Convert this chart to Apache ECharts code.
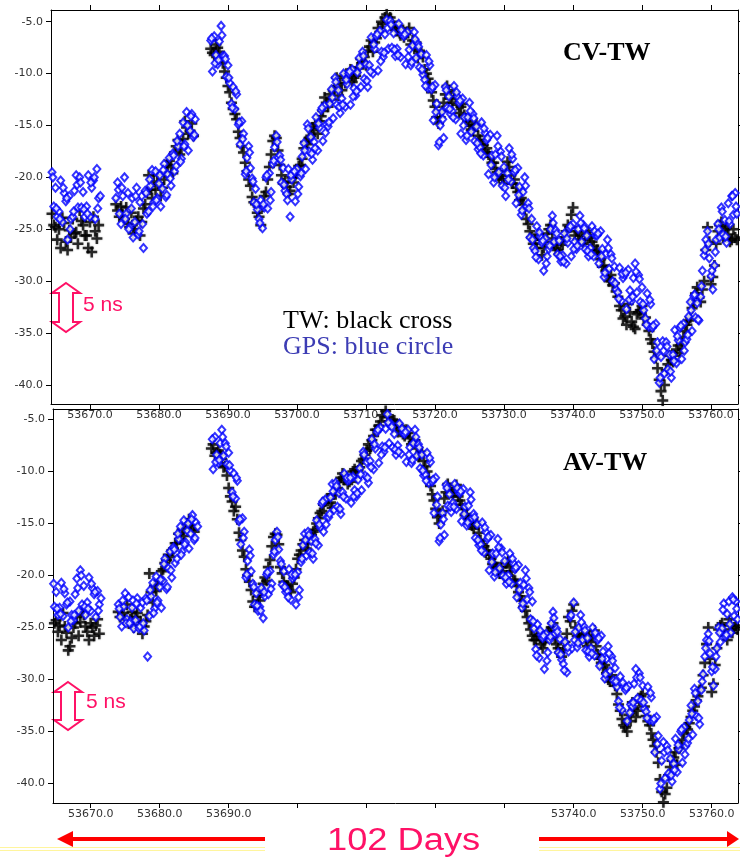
<!DOCTYPE html>
<html>
<head>
<meta charset="utf-8">
<script src="https://cdn.jsdelivr.net/npm/echarts@6/dist/echarts.min.js"></script>
<style>
  html, body { margin: 0; padding: 0; background: #fff; }
  #chart { width: 740px; height: 860px; }
</style>
</head>
<body>
<div id="chart"></div>
<script>
// MJD of the first sample; GPS read every 0.25 day (plus a second pass every 0.5 day),
// TW read every 0.5 day in two passes (values in ns)
const startDay = 53664.5;
const startDayB = 53664.625;
const startDayTwB = 53664.75;
const gpsStep = 0.25;
const halfDay = 0.5;

const dayTicks = [53670, 53680, 53690, 53700, 53710, 53720, 53730, 53740, 53750, 53760];
const nsTicks = [-5, -10, -15, -20, -25, -30, -35, -40];

// CV-TW, GPS (blue)
const cvGps = [
  -19.5,-22.8,-21.0,-23.8, -23.3,-20.3,-24.3,-21.5, -22.3,-26.0,-21.8,-24.0, -23.8,-21.3,-19.8,-22.9,
  -20.0,-22.9,-21.4,-23.8, -22.8,-19.8,-23.8,-21.0, -20.3,-24.0,-19.2,-22.0, -21.8,null,null,null,
  null,null,null,null, null,-22.0,-20.5,-23.5, -24.5,-21.8,-20.0,-23.5, -21.5,-24.8,-23.0,-25.8,
  -24.3,-21.0,-25.5,-22.4, -21.8,-26.8,-21.3,-23.5, -23.3,-20.8,-19.3,-22.4, -19.4,-22.0,-20.6,-22.8,
  -21.1,-18.7,-21.9,-19.7, -18.1,-20.8,-17.7,-19.4, -18.9,-17.0,-15.8,-18.2, -14.7,-16.8,-13.7,-17.4,
  -15.5,-13.9,-16.1,-14.4, null,null,null,null, null,null,null,null, -6.8,-9.8,-6.4,-8.2,
  -9.1,-6.9,-5.4,-8.3, -8.3,-10.3,-9.2,-10.9, -12.9,-11.3,-13.4,-12.0, -14.9,-16.8,-14.6,-15.8,
  -19.7,-18.1,-17.0,-19.1, -20.1,-22.4,-21.1,-23.1, -24.0,-22.2,-24.9,-22.9, -20.0,-23.0,-19.6,-21.4,
  -18.7,-17.1,-16.0,-18.1, -17.9,-20.5,-19.1,-21.3, -21.6,-19.2,-23.8,-20.2, -19.6,-22.3,-19.2,-20.9,
  -19.9,-18.0,-16.7,-19.2, -14.9,-17.5,-16.1,-18.3, -16.6,-14.2,-17.4,-15.2, -13.5,-16.5,-13.1,-14.9,
  -15.1,-12.9,-11.5,-14.3, -10.4,-13.0,-11.6,-13.8, -12.4,-10.0,-13.2,-11.0, -10.0,-13.0,-9.6,-11.4,
  -12.1,-9.9,-8.5,-11.3, -7.9,-10.5,-9.1,-11.3, -9.2,-6.5,-10.0,-7.6, -6.4,-9.7,-5.9,-7.9,
  -8.4,-6.2,-4.8,-7.6, -4.9,-7.5,-6.1,-8.3, -7.6,-5.2,-8.4,-6.2, -6.4,-9.1,-6.0,-7.7,
  -9.2,-7.3,-6.0,-8.5, -7.1,-9.4,-8.1,-10.1, -10.6,-8.2,-11.4,-9.2, -11.5,-14.5,-11.1,-12.9,
  -16.9,-15.0,-13.7,-16.2, -11.3,-13.3,-12.2,-13.9, -13.6,-11.2,-14.4,-12.2, -12.8,-15.8,-12.4,-14.2,
  -16.4,-14.2,-12.8,-15.6, -13.9,-16.5,-15.1,-17.3, -17.1,-14.7,-17.9,-15.7, -16.4,-19.7,-15.9,-17.9,
  -20.5,-17.8,-16.0,-19.5, -17.5,-20.8,-19.0,-21.8, -19.6,-17.2,-20.4,-18.2, -19.5,-22.5,-19.1,-20.9,
  -23.6,-21.4,-20.0,-22.8, -22.5,-25.8,-24.0,-26.8, -27.1,-24.7,-27.9,-25.7, -26.3,-29.0,-25.9,-27.6,
  -26.9,-25.0,-23.7,-26.2, -25.1,-27.4,-26.1,-28.1, -27.5,-25.4,-28.3,-26.3, -24.9,-27.6,-24.5,-26.2,
  -26.9,-25.0,-23.7,-26.2, -24.6,-26.9,-25.6,-27.6, -26.8,-24.7,-27.6,-25.6, -25.6,-28.3,-25.2,-26.9,
  -29.6,-27.4,-26.0,-28.8, -27.4,-30.0,-28.6,-30.8, -31.1,-28.7,-31.9,-29.7, -29.4,-32.7,-28.9,-30.9,
  -31.9,-29.7,-28.3,-31.1, -29.4,-32.0,-30.6,-32.8, -33.6,-31.2,-34.4,-32.2, -34.5,-37.5,-34.1,-35.9,
  -39.8,-37.3,-35.8,-38.9, -35.9,-38.5,-37.1,-39.3, -37.1,-34.7,-37.9,-35.7, -34.5,-37.5,-34.1,-35.9,
  -35.6,-33.4,-32.0,-34.8, -31.4,-33.5,-32.1,-33.8, -31.5,-29.0,-27.5,-26.0, -25.2,-27.8,-29.5,-30.8,
  -28.5,-26.0,-24.5,-25.8, -22.9,-25.5,-24.1,-26.3, -22.5,-24.5,-21.8,-23.6, -21.5,-23.5,null,null
];

// CV-TW, GPS (blue), second pass
const cvGpsB = [
  -20.0,-23.0, -24.0,-21.0, -22.0,-25.0, -23.3,-20.7, -20.5,-23.1, -23.5,-20.5, -20.0,-23.0, null,null,
  null,null, null,-21.2, -21.0,-24.0, -25.0,-22.0, -21.8,-25.2, -24.5,-21.5, -20.2,-22.8, -22.2,-19.8,
  -19.3,-21.7, -20.1,-17.9, -16.5,-18.5, -17.0,-15.0, -14.1,-15.9, null,null, null,null, -6.6,-9.0,
  -8.7,-6.3, -8.6,-10.4, -13.3,-11.7, -14.7,-16.3, -19.4,-17.6, -20.4,-22.6, -24.4,-22.6, -19.8,-22.2,
  -18.4,-16.6, -18.3,-20.7, -22.2,-19.8, -19.4,-21.6, -19.6,-17.4, -15.3,-17.7, -17.2,-14.8, -13.3,-15.7,
  -14.7,-12.3, -10.8,-13.2, -13.0,-10.6, -9.8,-12.2, -11.7,-9.3, -8.3,-10.7, -9.8,-7.2, -6.2,-8.8,
  -8.0,-5.6, -5.3,-7.7, -8.2,-5.8, -6.2,-8.4, -8.9,-6.7, -7.4,-9.6, -11.2,-8.8, -11.3,-13.7,
  -16.6,-14.4, -11.6,-13.4, -14.2,-11.8, -12.6,-15.0, -16.0,-13.6, -14.3,-16.7, -17.7,-15.3, -16.2,-18.8,
  -20.0,-17.0, -18.0,-21.0, -20.2,-17.8, -19.3,-21.7, -23.2,-20.8, -23.0,-26.0, -27.7,-25.3, -26.1,-28.3,
  -26.6,-24.4, -25.4,-27.6, -28.1,-25.9, -24.7,-26.9, -26.6,-24.4, -24.9,-27.1, -27.4,-25.2, -25.4,-27.6,
  -29.2,-26.8, -27.8,-30.2, -31.7,-29.3, -29.2,-31.8, -31.5,-29.1, -29.8,-32.2, -34.2,-31.8, -34.3,-36.7,
  -39.3,-36.7, -36.3,-38.7, -37.7,-35.3, -34.3,-36.7, -35.2,-32.8, -31.3,-33.7, -30.5,-27.0, -26.4,-29.0,
  -27.2,-25.0, -23.3,-25.7, -24.2,-21.8, -22.8,null
];

// CV-TW, TW (black)
const cvTw = [
  -23.5,-24.8, -25.0,-23.9, -26.2,-25.1, -24.0,-25.3, -23.2,-24.6, -25.6,-24.3, -23.8,-25.9, null,null,
  null,null, null,-23.2, -22.8,-24.0, -24.5,-23.4, -25.0,-23.8, -24.3,-22.6, -19.8,-22.0, -21.2,-20.6,
  -21.0,-19.5, -18.4,-19.6, -17.0,-17.8, -16.3,-15.2, -15.5,-16.0, null,null, null,null, -7.6,-8.2,
  -7.5,-8.6, -9.8,-11.2, -12.8,-13.9, -15.6,-17.0, -18.6,-20.2, -21.9,-22.6, -23.8,-22.8, -21.4,-19.0,
  -16.5,-16.2, -18.8,-20.6, -20.9,-21.3, -20.5,-19.6, -18.8,-17.2, -16.8,-16.0, -15.4,-15.8, -14.1,-12.3,
  -13.2,-12.5, -11.4,-12.1, -11.6,-10.9, -10.0,-10.8, -10.2,-9.5, -8.9,-9.2, -7.4,-7.9, -6.6,-6.0,
  -5.2,-4.3, -4.6,-5.5, -5.8,-6.3, -6.5,-6.0, -7.2,-7.6, -8.5,-8.0, -9.6,-10.5, -11.8,-13.2,
  -14.8,-13.6, -12.0,-11.6, -12.8,-12.2, -13.8,-12.9, -14.3,-15.0, -15.5,-14.8, -16.4,-16.9, -17.2,-18.0,
  -18.6,-19.5, -19.8,-20.6, -18.5,-19.8, -20.2,-21.4, -22.0,-23.1, -24.5,-25.8, -26.0,-25.5, -27.5,-26.2,
  -25.0,-25.9, -26.8,-27.4, -26.5,-25.2, -24.8,-22.9, -25.2,-26.1, -26.4,-25.6, -25.8,-26.6, -27.0,-27.9,
  -28.5,-29.6, -29.4,-30.2, -31.5,-32.8, -33.4,-32.2, -33.9,-34.6, -33.0,-32.4, -33.5,-34.8, -36.0,-37.4,
  -39.5,-41.5, -38.6,-37.2, -37.8,-36.6, -36.9,-35.4, -34.2,-33.5, -32.0,-30.6, -32.0,-30.0, -24.8,-30.3,
  -28.5,-25.2, -24.3,-25.0, -25.5,-26.0, -25.8,null
];

// CV-TW, TW (black), second pass
const cvTwB = [
  -24.6,-26.0, -26.8,-24.4, -27.0,-25.8, -25.4,-26.4, -24.2,-25.6, -26.8,-27.2, -25.2,-24.6, null,null,
  null,null, -22.6,-23.8, -23.6,-22.9, -24.8,-25.4, -24.2,-25.6, -23.0,-21.4, -21.2,-20.4, -19.8,-21.8,
  -20.2,-18.8, -19.0,-17.6, -16.4,-17.2, -14.6,-15.8, -14.8,null, null,null, null,null, -8.0,-7.2,
  -7.9,-9.0, -10.4,-11.8, -13.4,-14.4, -16.2,-17.6, -19.4,-20.8, -22.4,-23.4, -24.6,-21.8, -20.2,-17.8,
  -16.0,-17.4, -19.8,-20.4, -21.6,-20.0, -19.8,-18.9, -18.2,-16.6, -16.2,-15.2, -14.8,-14.6, -13.6,-12.8,
  -12.0,-11.6, -10.4,-11.0, -10.2,-10.6, -9.6,-10.4, -9.4,-8.6, -8.4,-7.8, -6.8,-7.0, -5.6,-5.0,
  -4.6,-4.9, -5.0,-5.8, -5.4,-6.0, -6.2,-5.6, -6.8,-7.0, -7.8,-8.4, -10.0,-11.0, -12.6,-14.2,
  -14.2,-12.8, -11.2,-12.4, -11.8,-13.0, -13.2,-14.0, -14.6,-15.4, -15.0,-16.0, -16.8,-17.6, -17.8,-18.6,
  -19.2,-20.0, -20.2,-19.4, -19.0,-20.6, -21.0,-22.2, -22.6,-24.0, -25.2,-26.4, -26.8,-26.0, -26.8,-25.4,
  -24.6,-26.4, -27.0,-26.2, -25.8,-24.6, -23.6,-25.6, -26.0,-25.4, -26.0,-25.2, -26.2,-27.2, -27.5,-28.6,
  -29.0,-30.0, -30.4,-31.0, -32.4,-33.6, -34.2,-33.0, -34.4,-33.2, -32.8,-33.6, -34.2,-35.6, -36.8,-38.4,
  -40.6,-40.0, -38.0,-37.6, -37.2,-36.2, -36.0,-34.8, -33.8,-32.6, -31.2,-31.6, -30.8,-27.0, -26.2,-29.6,
  -26.4,-24.6, -25.8,-24.8, -26.2,-25.0, -26.0,null
];

// AV-TW, GPS (blue)
const avGps = [
  -20.4,-23.0,-21.6,-23.8, -23.1,-20.7,-23.9,-21.7, -22.8,-25.0,-22.5,-23.8, -24.3,-21.8,-20.3,-23.4,
  -19.5,-22.8,-21.0,-23.8, -22.6,-20.2,-23.4,-21.2, -21.8,-24.0,-21.5,-22.8, -22.2,null,null,null,
  null,null,null,null, null,null,-22.8,-24.0, -24.9,-23.0,-21.7,-24.2, -22.1,-24.4,-23.1,-25.1,
  -24.3,-22.2,-25.1,-23.1, -22.6,-25.3,-22.2,-27.8, -23.9,-22.0,-20.7,-23.2, -20.1,-22.4,-21.1,-23.1,
  -20.5,-18.4,-21.3,-19.3, -17.7,-20.2,-17.3,-18.8, -18.4,-16.5,-15.3,-17.7, -14.7,-16.8,-15.7,-17.4,
  -16.0,-14.2,-16.6,-14.9, -15.3,null,null,null, null,null,null,null, null,-9.8,-6.7,-8.4,
  -9.2,-7.3,-6.0,-8.5, -7.3,-9.3,-8.2,-9.9, -12.0,-10.2,-12.6,-10.9, -14.8,-17.0,-14.5,-15.8,
  -20.2,-18.6,-17.5,-19.6, -20.8,-22.8,-21.7,-23.4, -23.0,-21.2,-24.1,-22.0, -19.9,-21.8,-19.6,-20.8,
  -18.0,-16.6,-15.8,-17.5, -18.6,-20.9,-19.6,-21.6, -21.5,-19.4,-22.3,-20.3, -20.1,-22.8,-19.7,-21.4,
  -18.7,-17.1,-16.0,-18.1, -15.8,-17.8,-16.7,-18.4, -16.5,-14.7,-17.1,-15.4, -13.1,-15.8,-12.7,-14.4,
  -14.4,-12.5,-11.2,-13.7, -11.1,-13.4,-12.1,-14.1, -12.0,-10.2,-12.6,-10.9, -10.8,-13.0,-10.5,-11.8,
  -12.4,-10.8,-9.7,-11.8, -8.1,-10.4,-9.1,-11.1, -9.0,-6.9,-9.8,-7.8, -6.2,-9.2,-5.8,-7.6,
  -8.1,-5.9,-4.5,-7.3, -5.4,-7.7,-6.4,-8.4, -7.5,-5.4,-8.3,-6.3, -6.4,-9.1,-6.0,-7.7,
  -9.2,-7.3,-6.0,-8.5, -7.4,-9.7,-8.4,-10.4, -10.3,-8.2,-11.1,-9.1, -11.0,-14.0,-10.6,-12.4,
  -16.7,-15.1,-14.0,-16.1, -11.3,-13.3,-12.2,-13.9, -13.0,-11.2,-13.6,-11.9, -12.1,-14.8,-11.7,-13.4,
  -15.2,-13.3,-12.0,-14.5, -14.1,-16.4,-15.1,-17.1, -17.0,-14.9,-17.8,-15.8, -16.5,-19.5,-16.1,-17.9,
  -20.1,-17.9,-16.5,-19.3, -17.4,-20.0,-18.6,-20.8, -20.0,-17.9,-20.8,-18.8, -19.4,-22.1,-19.0,-20.7,
  -23.1,-20.9,-19.5,-22.3, -21.2,-24.2,-22.5,-25.1, -27.1,-24.7,-27.9,-25.7, -26.0,-29.0,-25.6,-27.4,
  -26.2,-24.6,-23.5,-25.6, -25.1,-27.4,-26.1,-28.1, -28.5,-26.4,-29.3,-27.3, -24.0,-27.0,-22.6,-25.4,
  -26.9,-25.0,-23.8,-26.2, -24.9,-27.2,-26.0,-27.8, -27.0,-25.0,-27.7,-25.8, -26.2,-28.7,-25.8,-27.3,
  -29.9,-28.0,-26.8,-29.2, -27.8,-30.1,-28.9,-30.7, -32.1,-29.7,-32.9,-30.7, -31.0,-34.0,-30.6,-32.4,
  -32.6,-30.4,-29.0,-31.8, -29.4,-32.0,-30.6,-32.8, -33.1,-30.7,-33.9,-31.7, -34.0,-37.0,-33.6,-35.4,
  -40.5,-37.8,-36.0,-39.5, -36.4,-39.0,-37.6,-39.8, -38.1,-35.7,-38.9,-36.7, -35.0,-38.0,-34.6,-36.4,
  -36.1,-33.9,-32.5,-35.3, -30.9,-33.5,-32.1,-34.3, -31.0,-29.5,-27.8,-26.2, -25.6,-27.5,-29.2,-30.6,
  -29.0,-27.0,-25.0,-26.4, -25.1,-22.7,-25.9,-23.7, -22.5,-25.5,-22.1,-23.9, -22.5,-24.2,null,null
];

// AV-TW, GPS (blue), second pass
const avGpsB = [
  -20.8,-23.2, -23.7,-21.3, -22.6,-24.4, -23.8,-21.2, -20.0,-23.0, -23.2,-20.8, -21.6,-23.4, null,null,
  null,null, null,-23.2, -22.4,-24.6, -24.6,-22.4, -22.7,-24.9, -24.6,-22.4, -21.4,-23.6, -22.6,-20.4,
  -18.9,-21.1, -19.5,-17.5, -16.0,-18.0, -17.0,-15.0, -14.6,-16.4, null,null, null,null, -6.9,-9.1,
  -8.9,-6.7, -7.6,-9.4, -12.4,-10.6, -14.6,-16.4, -19.9,-18.1, -21.1,-22.9, -23.4,-21.6, -19.7,-21.3,
  -17.7,-16.3, -18.9,-21.1, -22.1,-19.9, -19.9,-22.1, -18.4,-16.6, -16.1,-17.9, -16.9,-15.1, -12.9,-15.1,
  -14.1,-11.9, -11.4,-13.6, -12.4,-10.6, -10.6,-12.4, -12.1,-10.3, -8.4,-10.6, -9.6,-7.4, -6.0,-8.4,
  -7.7,-5.3, -5.7,-7.9, -8.1,-5.9, -6.2,-8.4, -8.9,-6.7, -7.7,-9.9, -10.9,-8.7, -10.8,-13.2,
  -16.4,-14.6, -11.6,-13.4, -13.4,-11.6, -11.9,-14.1, -14.9,-12.7, -14.4,-16.6, -17.6,-15.4, -16.3,-18.7,
  -19.7,-17.3, -17.8,-20.2, -20.6,-18.4, -19.2,-21.4, -22.7,-20.3, -21.6,-24.4, -27.7,-25.3, -25.8,-28.2,
  -25.9,-24.1, -25.4,-27.6, -29.1,-26.9, -23.8,-26.2, -26.5,-24.5, -25.3,-27.3, -27.5,-25.5, -26.0,-28.0,
  -29.5,-27.5, -28.2,-30.2, -32.7,-30.3, -30.8,-33.2, -32.2,-29.8, -29.8,-32.2, -33.7,-31.3, -33.8,-36.2,
  -40.0,-37.0, -36.8,-39.2, -38.7,-36.3, -34.8,-37.2, -35.7,-33.3, -31.3,-33.7, -30.2,-27.0, -26.3,-28.8,
  -27.8,-25.5, -23.3,-25.7, -24.7,-22.3, -23.2,null
];

// AV-TW, TW (black)
const avTw = [
  -23.2,-24.3, -24.8,-23.6, -25.5,-26.8, -25.0,-24.0, -24.5,-23.8, -25.4,-24.6, -25.8,-24.2, null,null,
  null,null, null,-23.5, -23.0,-24.2, -24.6,-23.5, -24.0,-24.8, -25.6,-24.4, -19.8,-22.6, -21.5,-20.5,
  -19.4,-18.5, -18.2,-17.4, -16.9,-16.5, -16.2,-15.0, -15.2,-15.8, null,null, null,null, -7.8,-8.5,
  -8.0,-8.8, -9.5,-11.6, -12.9,-13.4, -15.9,-17.6, -19.4,-20.6, -22.5,-23.0, -22.4,-20.8, -20.5,-18.5,
  -16.3,-16.1, -19.2,-20.6, -21.0,-21.6, -20.2,-18.4, -17.6,-16.6, -16.9,-16.1, -15.6,-14.5, -13.8,-12.9,
  -12.6,-13.5, -12.2,-11.0, -10.2,-10.5, -11.0,-10.0, -10.6,-9.6, -8.8,-8.0, -7.8,-6.6, -6.0,-5.2,
  -3.9,-4.8, -5.5,-5.1, -6.2,-5.8, -6.6,-6.3, -7.4,-7.0, -8.6,-8.1, -9.5,-10.6, -12.2,-13.6,
  -15.0,-13.8, -12.0,-11.6, -12.4,-11.3, -12.8,-13.6, -14.1,-14.9, -15.5,-14.9, -16.6,-17.2, -17.6,-18.4,
  -18.8,-19.6, -19.2,-20.2, -18.6,-19.6, -20.5,-21.6, -22.4,-23.4, -24.6,-25.8, -26.2,-25.6, -27.0,-26.0,
  -25.4,-24.6, -26.6,-27.4, -27.2,-25.6, -24.4,-22.8, -25.8,-26.2, -25.6,-26.8, -26.4,-25.3, -27.6,-28.4,
  -28.6,-30.0, -29.6,-30.6, -32.4,-33.8, -34.6,-33.4, -32.2,-33.6, -32.0,-31.4, -33.5,-34.4, -35.8,-37.0,
  -39.6,-41.8, -40.4,-38.4, -37.5,-38.2, -36.4,-35.2, -34.8,-33.6, -32.6,-31.6, -30.8,-28.4, -25.0,-31.2,
  -28.6,-25.2, -24.6,-25.8, -24.2,-25.5, -24.8,null
];

// AV-TW, TW (black), second pass
const avTwB = [
  -24.6,-25.4, -26.2,-24.9, -27.2,-26.0, -24.6,-25.8, -23.4,-24.9, -26.2,-25.0, -24.8,-25.6, null,null,
  null,null, null,-24.0, -23.6,-22.8, -24.2,-25.0, -23.6,-24.4, -24.9,-23.8, -21.6,-21.0, -20.8,-19.6,
  -18.8,-18.0, -17.6,-16.9, -16.0,-15.6, -15.4,-14.6, -15.6,null, null,null, null,null, -7.4,-8.2,
  -8.4,-9.6, -10.4,-12.4, -13.8,-14.6, -16.6,-18.2, -20.0,-21.4, -23.0,-22.0, -21.6,-20.2, -19.2,-17.2,
  -16.0,-17.0, -19.8,-21.0, -21.4,-20.8, -19.4,-18.0, -17.0,-17.4, -16.4,-15.8, -15.0,-14.0, -13.2,-12.6,
  -13.0,-12.2, -11.6,-10.6, -10.8,-11.2, -10.4,-9.8, -9.9,-9.0, -8.4,-7.4, -7.0,-6.0, -5.6,-4.6,
  -4.2,-5.2, -5.0,-5.6, -5.6,-6.4, -6.0,-6.8, -7.2,-7.8, -8.4,-9.0, -10.0,-11.4, -12.8,-14.4,
  -14.2,-12.6, -11.2,-12.0, -11.8,-12.4, -13.2,-14.2, -14.6,-15.2, -15.0,-15.9, -17.0,-17.8, -18.0,-18.9,
  -19.2,-19.8, -19.6,-18.8, -19.2,-20.4, -21.0,-22.0, -23.0,-24.0, -25.2,-26.2, -25.8,-26.6, -26.4,-25.4,
  -25.0,-26.0, -27.0,-27.8, -26.4,-24.0, -23.4,-25.0, -26.0,-25.6, -26.2,-25.8, -25.8,-26.8, -28.0,-28.8,
  -29.4,-30.2, -30.2,-31.4, -33.0,-34.4, -35.0,-34.0, -32.8,-33.0, -31.6,-32.6, -34.0,-35.2, -36.4,-38.0,
  -40.8,-41.0, -39.2,-37.8, -37.0,-36.6, -35.8,-34.6, -34.2,-33.0, -32.0,-31.0, -29.6,-26.6, -28.0,-30.4,
  -27.0,-24.8, -25.2,-26.2, -24.8,-25.0, -25.2,null
];

function toPoints(values, start, step) {
  const pts = [];
  values.forEach((v, i) => {
    if (v !== null) pts.push([start + i * step, v]);
  });
  return pts;
}

const axisFont = { fontFamily: 'DejaVu Sans', fontSize: 11, color: '#333' };
const frame = { show: true, onZero: false, lineStyle: { color: '#000', width: 1 } };

function xAxes(gridIndex, min, max, hideDays) {
  return [
    {
      type: 'value', gridIndex: gridIndex, position: 'bottom', min: min, max: max,
      axisLine: frame,
      axisTick: { show: true, length: 5, customValues: dayTicks, lineStyle: { color: '#000' } },
      axisLabel: Object.assign({
        customValues: dayTicks, margin: 6,
        formatter: v => (hideDays.indexOf(v) >= 0 ? '' : v.toFixed(1))
      }, axisFont),
      splitLine: { show: false }
    },
    {
      type: 'value', gridIndex: gridIndex, position: 'top', min: min, max: max,
      axisLine: frame,
      axisTick: { show: true, length: 5, customValues: dayTicks, lineStyle: { color: '#000' } },
      axisLabel: { show: false },
      splitLine: { show: false }
    }
  ];
}

function yAxes(gridIndex, min, max) {
  return [
    {
      type: 'value', gridIndex: gridIndex, position: 'left', min: min, max: max,
      axisLine: frame,
      axisTick: { show: true, length: 5, customValues: nsTicks, lineStyle: { color: '#000' } },
      axisLabel: Object.assign({ customValues: nsTicks, margin: 8, formatter: v => v.toFixed(1) }, axisFont),
      splitLine: { show: false }
    },
    {
      type: 'value', gridIndex: gridIndex, position: 'right', min: min, max: max,
      axisLine: frame,
      axisTick: { show: true, length: 4, customValues: nsTicks, lineStyle: { color: '#000' } },
      axisLabel: { show: false },
      splitLine: { show: false }
    }
  ];
}

// plus sign with thick arms
const crossSymbol = 'path://M4,0h2.4v4h4v2.4h-4v4h-2.4v-4h-4v-2.4h4z';

function twSeries(points, axisIndex) {
  return {
    type: 'scatter', xAxisIndex: axisIndex, yAxisIndex: axisIndex,
    data: points,
    symbol: crossSymbol, symbolSize: 11,
    itemStyle: { color: '#000', shadowColor: 'rgba(0,0,0,0.35)', shadowBlur: 2 },
    silent: true
  };
}

function gpsSeries(points, axisIndex) {
  return {
    type: 'scatter', xAxisIndex: axisIndex, yAxisIndex: axisIndex,
    data: points,
    symbol: 'emptyDiamond', symbolSize: [7, 8],
    itemStyle: { color: '#0000ff', borderWidth: 2.8 },
    silent: true
  };
}

const pink = '#ff1166';

function nsArrow(x, top, bottom) {
  return {
    type: 'polygon',
    shape: { points: [
      [x, top], [x + 14, top + 10], [x + 7, top + 10], [x + 7, bottom - 10],
      [x + 14, bottom - 10], [x, bottom], [x - 14, bottom - 10], [x - 7, bottom - 10],
      [x - 7, top + 10], [x - 14, top + 10]
    ] },
    style: { fill: 'none', stroke: pink, lineWidth: 2 }
  };
}

const chart = echarts.init(document.getElementById('chart'));
chart.setOption({
  animation: false,
  backgroundColor: '#fff',
  grid: [
    { left: 51, top: 10, width: 687, height: 394, outerBoundsMode: 'none' },
    { left: 53, top: 409, width: 685, height: 394, outerBoundsMode: 'none' }
  ],
  xAxis: [].concat(
    xAxes(0, 53664.35, 53763.91, []),
    xAxes(1, 53664.54, 53763.81, [53700, 53710, 53720, 53730])
  ),
  yAxis: [].concat(
    yAxes(0, -41.84, -3.87),
    yAxes(1, -41.87, -4.0)
  ),
  series: [
    twSeries(toPoints(cvTw, startDay, halfDay).concat(toPoints(cvTwB, startDayTwB, halfDay)), 0),
    gpsSeries(toPoints(cvGps, startDay, gpsStep).concat(toPoints(cvGpsB, startDayB, halfDay)), 0),
    twSeries(toPoints(avTw, startDay, halfDay).concat(toPoints(avTwB, startDayTwB, halfDay)), 2),
    gpsSeries(toPoints(avGps, startDay, gpsStep).concat(toPoints(avGpsB, startDayB, halfDay)), 2)
  ],
  graphic: [
    { type: 'text', left: 563, top: 40, style: { text: 'CV-TW', font: 'bold 26px "Liberation Serif"', fill: '#000' } },
    { type: 'text', left: 563, top: 450, style: { text: 'AV-TW', font: 'bold 26px "Liberation Serif"', fill: '#000' } },
    { type: 'text', left: 283, top: 308, style: { text: 'TW: black cross', font: '26px "Liberation Serif"', fill: '#000' } },
    { type: 'text', left: 283, top: 334, style: { text: 'GPS: blue circle', font: '26px "Liberation Serif"', fill: '#3c3cb4' } },
    nsArrow(66, 283, 332),
    { type: 'text', left: 83, top: 295, style: { text: '5 ns', font: '21px "Liberation Sans"', fill: pink } },
    nsArrow(68, 682, 730),
    { type: 'text', left: 86, top: 692, style: { text: '5 ns', font: '21px "Liberation Sans"', fill: pink } },
    { type: 'text', x: 327, y: 841, scaleX: 1.17, style: { text: '102 Days', font: '31px "Liberation Sans"', fill: pink, align: 'left', verticalAlign: 'middle' } },
    { type: 'line', shape: { x1: 72, y1: 839, x2: 265, y2: 839 }, style: { stroke: '#ff0000', lineWidth: 4 } },
    { type: 'polygon', shape: { points: [[57, 839], [73, 831], [73, 847]] }, style: { fill: '#ff0000' } },
    { type: 'line', shape: { x1: 539, y1: 839, x2: 728, y2: 839 }, style: { stroke: '#ff0000', lineWidth: 4 } },
    { type: 'polygon', shape: { points: [[739, 839], [727, 831], [727, 847]] }, style: { fill: '#ff0000' } },
    { type: 'line', shape: { x1: 0, y1: 847.5, x2: 265, y2: 847.5 }, style: { stroke: '#fff59d', lineWidth: 1 } },
    { type: 'line', shape: { x1: 0, y1: 850.5, x2: 265, y2: 850.5 }, style: { stroke: '#fff59d', lineWidth: 1 } },
    { type: 'line', shape: { x1: 539, y1: 847.5, x2: 740, y2: 847.5 }, style: { stroke: '#fff59d', lineWidth: 1 } },
    { type: 'line', shape: { x1: 539, y1: 850.5, x2: 740, y2: 850.5 }, style: { stroke: '#fff59d', lineWidth: 1 } }
  ]
});
</script>
</body>
</html>
